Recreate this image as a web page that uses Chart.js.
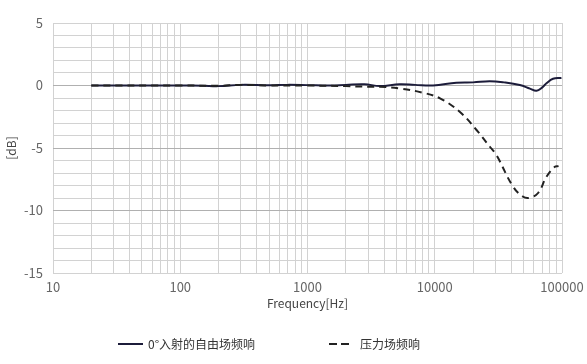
<!DOCTYPE html>
<html>
<head>
<meta charset="utf-8">
<script src="https://cdn.jsdelivr.net/npm/chart.js@4"></script>
<style>
  body { margin: 0; background: #fff; }
  #wrap { position: relative; width: 587px; height: 364px; }
  .legend { position: absolute; top: 335px; font: 12px "Noto Sans CJK SC", sans-serif; color: #333; white-space: nowrap; }
  .sw { position: absolute; top: 8px; height: 2px; }
</style>
</head>
<body>
<div id="wrap">
  <canvas id="chart" width="587" height="364"></canvas>
  <div class="legend" style="left:118px;">
    <span class="sw" style="left:0;width:25px;background:#1c1c3a;"></span>
    <span style="margin-left:30px;">0°入射的自由场频响</span>
  </div>
  <div class="legend" style="left:329px;">
    <span class="sw" style="left:0;width:8px;background:#222;"></span>
    <span class="sw" style="left:12px;width:8px;background:#222;"></span>
    <span style="margin-left:31px;">压力场频响</span>
  </div>
</div>
<script>
// Frequency response data
const freeFreq = [20, 50, 100, 150, 200, 300, 500, 700, 1000, 1500, 2000, 2800, 3700, 5300, 7000, 9700, 14800, 20000, 27000, 35000, 46600, 56000, 63000, 70000, 75500, 85000, 99000];
const freeDb = [0, 0, 0, -0.02, -0.05, 0.05, 0.02, 0.05, 0.03, 0, 0.05, 0.1, -0.04, 0.1, 0.05, 0, 0.22, 0.25, 0.34, 0.25, 0.04, -0.25, -0.42, -0.15, 0.18, 0.54, 0.6];

const pressFreq = [20, 100, 200, 300, 500, 1000, 2000, 3000, 3700, 5300, 8100, 11000, 15700, 21300, 27100, 30500, 41300, 49500, 55800, 64900, 75500, 87800, 94000];
const pressDb = [0, 0, -0.02, 0.05, 0, 0, -0.05, -0.1, -0.1, -0.23, -0.58, -1.03, -2.1, -3.56, -4.9, -5.56, -8.1, -8.9, -8.98, -8.6, -7.3, -6.5, -6.45];

const xMin = 10, xMax = 100000;
const yMin = -15, yMax = 5;

const toPoints = (xs, ys) => xs.map((x, i) => ({ x, y: ys[i] }));

const tickFont = { family: '"Noto Sans CJK SC", sans-serif', size: 13 };
const titleFont = { family: '"Noto Sans CJK SC", sans-serif', size: 12 };

// Only label whole decades on the frequency axis
const isDecade = (v) => Math.abs(Math.log10(v) - Math.round(Math.log10(v))) < 1e-9;

new Chart(document.getElementById('chart'), {
    type: 'line',
    data: {
        datasets: [
            {
                label: '压力场频响',
                data: toPoints(pressFreq, pressDb),
                borderColor: '#222',
                borderWidth: 2,
                borderDash: [7, 5],
                pointRadius: 0,
                tension: 0.4
            },
            {
                label: '0°入射的自由场频响',
                data: toPoints(freeFreq, freeDb),
                borderColor: '#1c1c3a',
                borderWidth: 2,
                pointRadius: 0,
                tension: 0.4
            }
        ]
    },
    options: {
        responsive: false,
        animation: false,
        layout: { padding: { top: 23, right: 25, bottom: 53, left: 4 } },
        plugins: { legend: { display: false }, tooltip: { enabled: false } },
        scales: {
            x: {
                type: 'logarithmic',
                min: xMin,
                max: xMax,
                afterFit: (s) => {
                    s.height = 38;
                    s.paddingRight = 0;
                },
                afterBuildTicks: (s) => {
                    const ticks = [];
                    for (let d = xMin; d < xMax; d *= 10) {
                        for (let k = 1; k <= 9; k++) ticks.push({ value: d * k });
                    }
                    ticks.push({ value: xMax });
                    s.ticks = ticks;
                },
                ticks: {
                    autoSkip: false,
                    maxRotation: 0,
                    color: '#666',
                    font: tickFont,
                    padding: 6,
                    callback: (v) => isDecade(v) ? String(v) : ''
                },
                grid: { color: '#d2d2d2', drawTicks: false },
                border: { display: false },
                title: { display: true, text: 'Frequency[Hz]', color: '#444', font: titleFont, padding: 0 }
            },
            y: {
                min: yMin,
                max: yMax,
                afterFit: (s) => { s.width = 49; },
                ticks: {
                    stepSize: 1,
                    autoSkip: false,
                    color: '#666',
                    font: tickFont,
                    padding: 10,
                    callback: (v) => v % 5 === 0 ? String(v) : ''
                },
                grid: {
                    color: (c) => c.tick && c.tick.value % 5 === 0 && c.tick.value !== yMax && c.tick.value !== yMin ? '#b0b0b0' : '#d2d2d2',
                    drawTicks: false
                },
                border: { display: false },
                title: { display: true, text: '[dB]', color: '#444', font: titleFont, padding: 0 }
            }
        }
    }
});
</script>
</body>
</html>
